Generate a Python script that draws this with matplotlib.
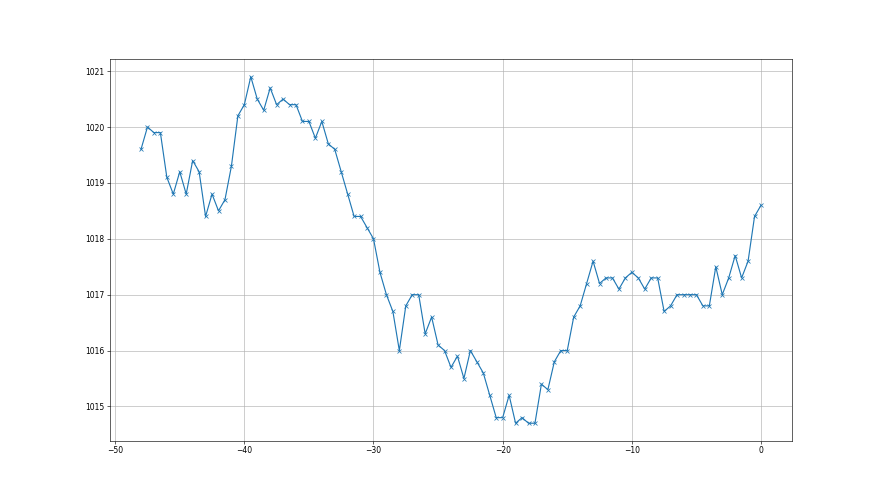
import numpy as np
import matplotlib
matplotlib.use('Agg')
import matplotlib.pyplot as plt

# hours before now, half-hour steps
hours = np.arange(-48, 0.5, 0.5)

# pressure readings (hPa)
pressure = [
    1019.6, 1020.0, 1019.9, 1019.9, 1019.1, 1018.8, 1019.2, 1018.8, 1019.4, 1019.2,
    1018.4, 1018.8, 1018.5, 1018.7, 1019.3, 1020.2, 1020.4, 1020.9, 1020.5, 1020.3,
    1020.7, 1020.4, 1020.5, 1020.4, 1020.4, 1020.1, 1020.1, 1019.8, 1020.1, 1019.7,
    1019.6, 1019.2, 1018.8, 1018.4, 1018.4, 1018.2, 1018.0, 1017.4, 1017.0, 1016.7,
    1016.0, 1016.8, 1017.0, 1017.0, 1016.3, 1016.6, 1016.1, 1016.0, 1015.7, 1015.9,
    1015.5, 1016.0, 1015.8, 1015.6, 1015.2, 1014.8, 1014.8, 1015.2, 1014.7, 1014.8,
    1014.7, 1014.7, 1015.4, 1015.3, 1015.8, 1016.0, 1016.0, 1016.6, 1016.8, 1017.2,
    1017.6, 1017.2, 1017.3, 1017.3, 1017.1, 1017.3, 1017.4, 1017.3, 1017.1, 1017.3,
    1017.3, 1016.7, 1016.8, 1017.0, 1017.0, 1017.0, 1017.0, 1016.8, 1016.8, 1017.5,
    1017.0, 1017.3, 1017.7, 1017.3, 1017.6, 1018.4, 1018.6,
]

fig = plt.figure(figsize=(16, 9), dpi=55)
plt.plot(hours, pressure, marker='x')
plt.grid(True)
plt.savefig('out.png', dpi=55)
